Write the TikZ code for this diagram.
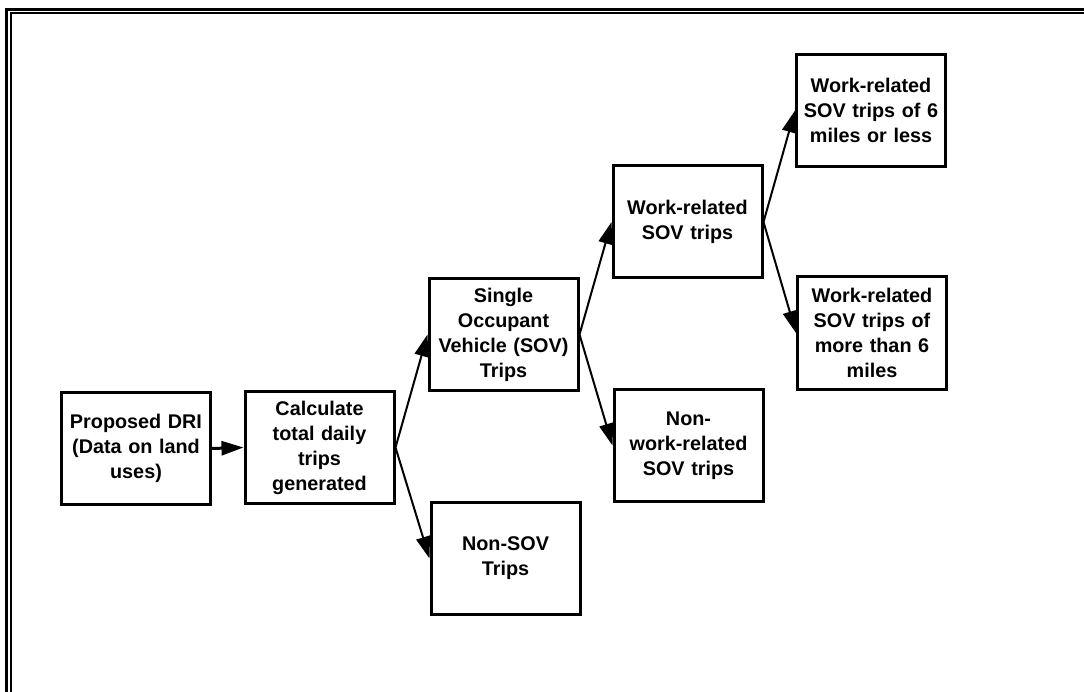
\documentclass[tikz,border=0pt]{standalone}
\usepackage{fontspec}
\setmainfont{Liberation Sans}
\usetikzlibrary{arrows.meta}
\begin{document}
\begin{tikzpicture}[x=1pt,y=-1pt,
  box/.style={draw=black,line width=3pt,minimum width=149pt,minimum height=112pt,
    inner sep=0pt,text width=145pt,align=center,
    font=\fontsize{19.8}{25}\selectfont\bfseries},
  conn/.style={line width=2pt,-{Triangle[length=22pt,width=14pt]}},
  frame/.style={line width=3pt},
  framein/.style={line width=2pt}]
\useasboundingbox (0,0) rectangle (1084,692);
\draw[frame] (6.5,692) -- (6.5,9.5) -- (1084,9.5);
\draw[framein] (10.5,692) -- (10.5,13) -- (1084,13);
\node[box] (dri) at (136,448.5) {Proposed DRI\\(Data on land\\uses)};
\node[box] (calc) at (319.5,447.5) {Calculate\\total daily\\trips\\generated};
\node[box] (sov) at (503.5,334.5) {Single\\Occupant\\Vehicle (SOV)\\Trips};
\node[box] (nsov) at (505.5,558.5) {Non-SOV\\Trips};
\node[box] (wr) at (687.5,222) {Work-related\\SOV trips};
\node[box] (nwr) at (688.5,445.5) {Non-\\work-related\\SOV trips};
\node[box] (wr6) at (871,110.5) {Work-related\\SOV trips of 6\\miles or less};
\node[box] (wrm) at (872,333) {Work-related\\SOV trips of\\more than 6\\miles};
\draw[conn,line width=3pt] (dri.east) -- (calc.west);
\draw[conn] (calc.east) -- (sov.west);
\draw[conn] (calc.east) -- (nsov.west);
\draw[conn] (sov.east) -- (wr.west);
\draw[conn] (sov.east) -- (nwr.west);
\draw[conn] (wr.east) -- (wr6.west);
\draw[conn] (wr.east) -- (wrm.west);
\end{tikzpicture}
\end{document}
